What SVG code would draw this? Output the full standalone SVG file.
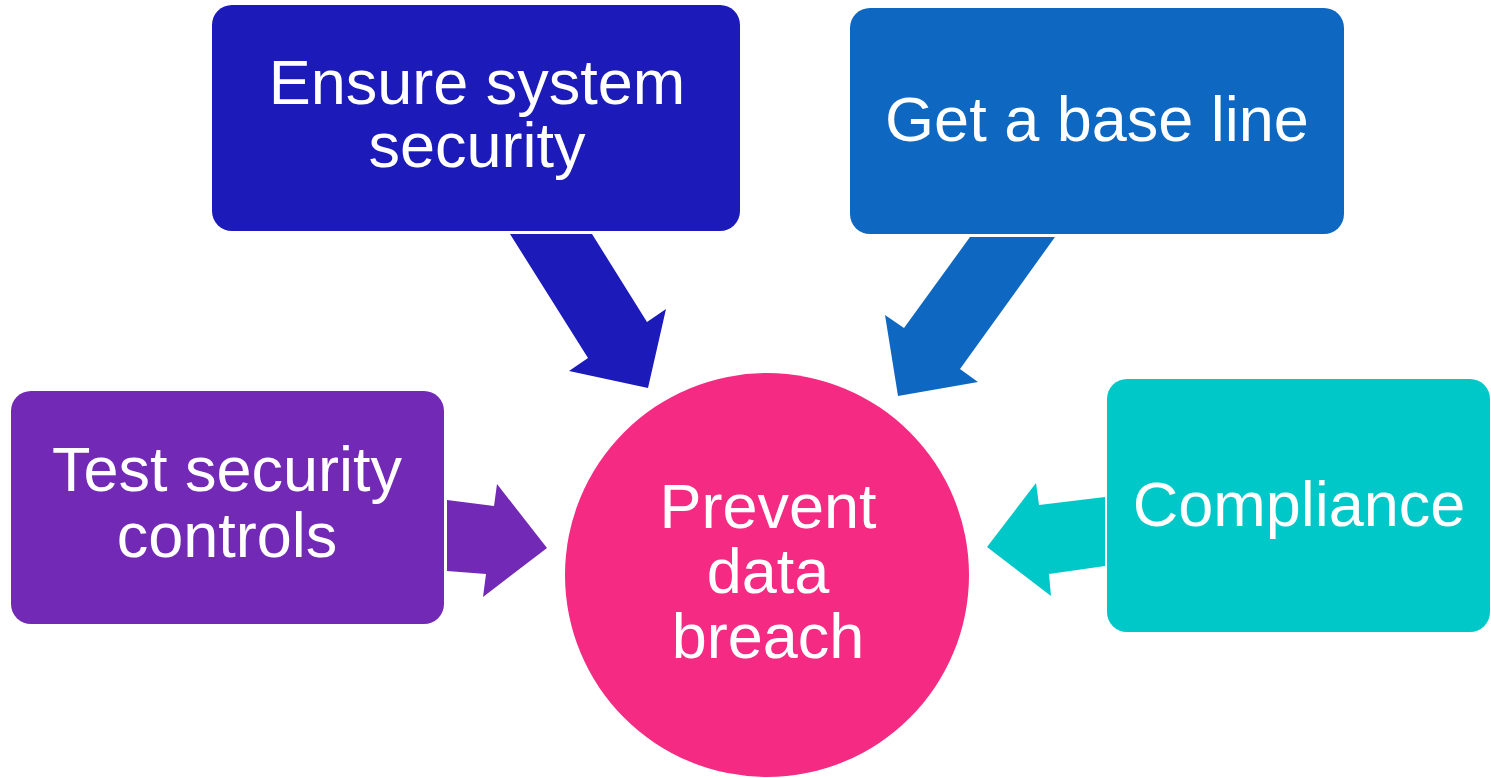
<svg xmlns="http://www.w3.org/2000/svg" width="1491" height="778" viewBox="0 0 1491 778">
  <style>
    .lbl { font-family: "Liberation Sans", Arial, sans-serif; font-size: 63px; fill: #ffffff; text-anchor: middle; }
  </style>
  <rect width="1491" height="778" fill="#ffffff"/>

  <!-- block arrows pointing to the centre -->
  <g id="connectors">
    <polygon fill="#1c1bba" points="510,234 592,234 647,322 666,309 648,388 569,371 588,358"/>
    <polygon fill="#0e68c2" points="970,237 1055,237 960,369 978,382 898,396 885,315 904,328"/>
    <polygon fill="#7229b5" points="447,500 494,506 497,484 547,548 483,597 486,574 447,571"/>
    <polygon fill="#00c8c8" points="1105,497 1039,505 1036,483 987,547 1051,596 1049,574 1105,566"/>
  </g>

  <g id="node-ensure">
    <rect x="212" y="5" width="528" height="226" rx="20" fill="#1c1bba"/>
    <text class="lbl" x="477" y="104">Ensure system</text>
    <text class="lbl" x="477" y="167">security</text>
  </g>

  <g id="node-baseline">
    <rect x="850" y="8" width="494" height="226" rx="20" fill="#0e68c2"/>
    <text class="lbl" x="1097" y="141">Get a base line</text>
  </g>

  <g id="node-test">
    <rect x="11" y="391" width="433" height="233" rx="20" fill="#7229b5"/>
    <text class="lbl" x="227" y="491">Test security</text>
    <text class="lbl" x="227" y="557">controls</text>
  </g>

  <g id="node-compliance">
    <rect x="1107" y="379" width="383" height="253" rx="20" fill="#00c8c8"/>
    <text class="lbl" x="1299" y="526">Compliance</text>
  </g>

  <g id="node-prevent">
    <circle cx="767" cy="575" r="202" fill="#f52a82"/>
    <text class="lbl" x="768" y="528">Prevent</text>
    <text class="lbl" x="768" y="593">data</text>
    <text class="lbl" x="768" y="658">breach</text>
  </g>
</svg>
